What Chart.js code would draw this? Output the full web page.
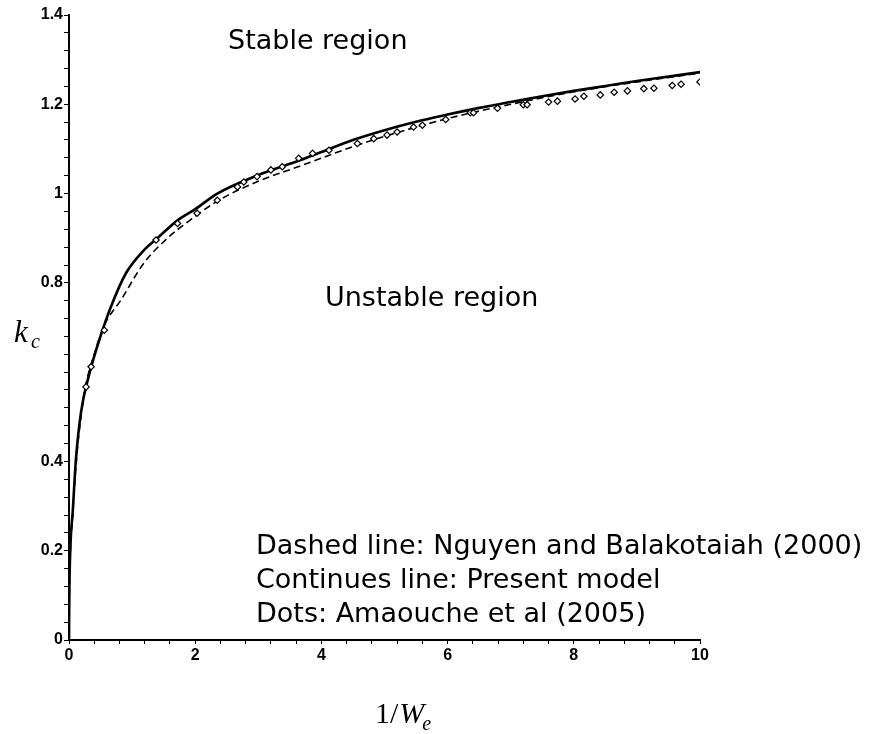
<!DOCTYPE html>
<html>
<head>
<meta charset="utf-8">
<script src="https://cdn.jsdelivr.net/npm/chart.js@4.4.1/dist/chart.umd.min.js"></script>
<style>
  html, body { margin: 0; padding: 0; background: #ffffff; }
  #wrap { position: relative; width: 870px; height: 734px; }
  canvas { display: block; }
</style>
</head>
<body>
<div id="wrap"><canvas id="c" width="870" height="734"></canvas></div>
<script>
// ---- data ----
const xSolid = [0, 0.005, 0.02, 0.06, 0.11, 0.19, 0.32, 0.51, 0.66, 0.9, 1.2, 1.4, 1.72, 2, 2.35, 2.99, 3.67, 4, 4.5, 5, 5.5, 6, 6.5, 7, 7.5, 8, 8.5, 9, 9.5, 10];
const kSolid = [0, 0.1, 0.2, 0.29, 0.405, 0.51, 0.595, 0.685, 0.745, 0.821, 0.875, 0.9, 0.94, 0.965, 1.0, 1.041, 1.075, 1.093, 1.12, 1.142, 1.161, 1.177, 1.192, 1.205, 1.218, 1.23, 1.241, 1.252, 1.262, 1.272];

const xDashed = [0, 0.005, 0.02, 0.06, 0.11, 0.24, 0.4, 0.56, 0.82, 1.19, 1.56, 1.82, 2.35, 2.99, 3.67, 4.5, 5, 6, 7, 8, 9, 10];
const kDashed = [0, 0.09, 0.19, 0.28, 0.39, 0.55, 0.64, 0.705, 0.761, 0.845, 0.9, 0.93, 0.983, 1.027, 1.062, 1.105, 1.128, 1.168, 1.2, 1.228, 1.25, 1.27];

const xDots = [0.27, 0.35, 0.56, 1.38, 1.72, 2.03, 2.35, 2.67, 2.77, 2.98, 3.2, 3.38, 3.64, 3.86, 4.12, 4.57, 4.83, 5.04, 5.2, 5.46, 5.6, 5.97, 6.36, 6.41, 6.79, 7.2, 7.26, 7.6, 7.74, 8.02, 8.16, 8.42, 8.64, 8.85, 9.11, 9.27, 9.56, 9.7, 10];
const kDots = [0.567, 0.612, 0.694, 0.896, 0.933, 0.956, 0.985, 1.015, 1.026, 1.038, 1.053, 1.06, 1.079, 1.09, 1.097, 1.112, 1.123, 1.131, 1.138, 1.149, 1.153, 1.166, 1.181, 1.181, 1.191, 1.199, 1.199, 1.205, 1.207, 1.212, 1.218, 1.221, 1.227, 1.23, 1.235, 1.236, 1.242, 1.245, 1.25];

const xTickLabels = [0, 2, 4, 6, 8, 10];
const yTickLabels = [0, 0.2, 0.4, 0.8, 1, 1.2, 1.4];

const annotations = [
  "Stable region",
  "Unstable region",
  "Dashed line: Nguyen and Balakotaiah (2000)",
  "Continues line: Present model",
  "Dots: Amaouche et al (2005)"
];

const toPts = (xs, ys) => xs.map((x, i) => ({ x: x, y: ys[i] }));
const near = (v, list) => list.some(t => Math.abs(v - t) < 1e-6);
const tickFont = { family: "'Liberation Sans Narrow', 'Arial Narrow', 'Liberation Sans', sans-serif", size: 16, weight: 'bold' };

const textPlugin = {
  id: 'texts',
  afterDraw(chart) {
    const ctx = chart.ctx;
    ctx.save();
    ctx.fillStyle = '#000';
    ctx.textBaseline = 'alphabetic';
    ctx.textAlign = 'left';
    ctx.font = "27px 'DejaVu Sans', sans-serif";
    ctx.fillText(annotations[0], 228, 49);
    ctx.fillText(annotations[1], 325, 306);
    ctx.fillText(annotations[2], 256, 554);
    ctx.fillText(annotations[3], 256, 588);
    ctx.fillText(annotations[4], 256, 622);

    // y axis title k_c
    ctx.font = "italic 31px 'Liberation Serif', 'Times New Roman', serif";
    ctx.fillText('k', 14, 342);
    ctx.font = "italic 20px 'Liberation Serif', 'Times New Roman', serif";
    ctx.fillText('c', 31, 348);

    // x axis title 1/W_e
    ctx.font = "30px 'Liberation Serif', 'Times New Roman', serif";
    ctx.fillText('1/', 375, 723);
    let w = ctx.measureText('1/').width;
    ctx.font = "italic 30px 'Liberation Serif', 'Times New Roman', serif";
    ctx.fillText('W', 375 + w + 1, 723);
    let w2 = ctx.measureText('W').width;
    ctx.font = "italic 20px 'Liberation Serif', 'Times New Roman', serif";
    ctx.fillText('e', 375 + w + w2 - 1, 730);
    ctx.restore();
  }
};

new Chart(document.getElementById('c'), {
  type: 'scatter',
  data: {
    datasets: [
      {
        label: 'Present model',
        data: toPts(xSolid, kSolid),
        showLine: true,
        borderColor: '#000',
        borderWidth: 2.6,
        pointRadius: 0,
        cubicInterpolationMode: 'monotone',
        order: 1
      },
      {
        label: 'Nguyen and Balakotaiah (2000)',
        data: toPts(xDashed, kDashed),
        showLine: true,
        borderColor: '#000',
        borderWidth: 1.6,
        borderDash: [7, 4],
        pointRadius: 0,
        cubicInterpolationMode: 'monotone',
        order: 2
      },
      {
        label: 'Amaouche et al (2005)',
        data: toPts(xDots, kDots),
        showLine: false,
        pointStyle: 'rectRot',
        pointRadius: 3.2,
        pointBorderWidth: 1.2,
        pointBorderColor: '#000',
        pointBackgroundColor: '#fff',
        order: 0
      }
    ]
  },
  options: {
    responsive: false,
    animation: false,
    devicePixelRatio: 1,
    layout: { padding: { left: 0, top: 15, right: 170, bottom: 64 } },
    plugins: {
      legend: { display: false },
      tooltip: { enabled: false }
    },
    scales: {
      x: {
        type: 'linear',
        min: 0, max: 10,
        afterFit(s) { s.height = 30; },
        border: { display: true, color: '#000', width: 2 },
        grid: { drawOnChartArea: false, drawTicks: true, tickLength: 4, tickColor: '#000', tickWidth: 1 },
        ticks: {
          stepSize: 0.4,
          autoSkip: false,
          maxRotation: 0,
          padding: 2,
          color: '#000',
          font: tickFont,
          callback: (v) => near(v, xTickLabels) ? String(Math.round(v)) : ''
        }
      },
      y: {
        type: 'linear',
        min: 0, max: 1.4,
        afterFit(s) { s.width = 69; },
        border: { display: true, color: '#000', width: 2 },
        grid: { drawOnChartArea: false, drawTicks: true, tickLength: 5, tickColor: '#000', tickWidth: 1 },
        ticks: {
          stepSize: 0.04,
          autoSkip: false,
          padding: 1,
          color: '#000',
          font: tickFont,
          callback: (v) => {
            const r = Math.round(v * 100) / 100;
            return near(r, yTickLabels) ? String(r) : '';
          }
        }
      }
    }
  },
  plugins: [textPlugin]
});
</script>
</body>
</html>
